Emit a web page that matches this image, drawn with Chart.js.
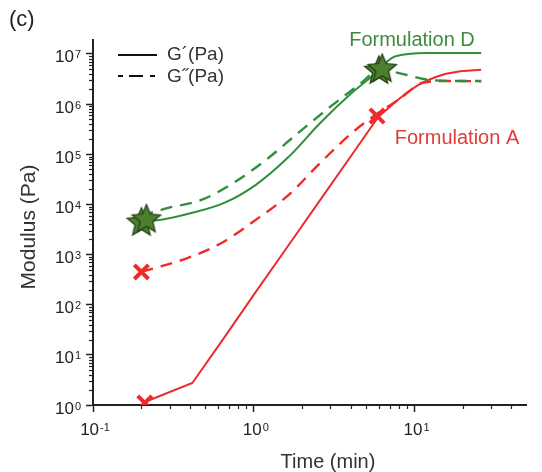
<!DOCTYPE html>
<html>
<head>
<meta charset="utf-8">
<script src="https://cdn.jsdelivr.net/npm/chart.js@4/dist/chart.umd.min.js"></script>
<style>
  html, body { margin: 0; padding: 0; background: #fff; }
  #wrap { width: 542px; height: 472px; }
</style>
</head>
<body>
<div id="wrap"><canvas id="c" width="542" height="472"></canvas></div>
<script>
// Formulation D, storage modulus G' (Pa) vs time (min)
const timeGpD = [0.2, 0.26, 0.415, 0.655, 1.03, 1.65, 2.6, 4.1, 5.4, 7.55, 11.9, 18, 26];
const gpD     = [4.6e3, 4.9e3, 6.8e3, 1.07e4, 2.46e4, 8.9e4, 4.25e5, 1.7e6, 3.5e6, 8.9e6, 1.05e7, 1.05e7, 1.05e7];

// Formulation D, loss modulus G'' (Pa)
const timeGppD = [0.2, 0.298, 0.476, 0.75, 1.19, 1.9, 3.0, 4.5, 6.1, 7.9, 11.9, 18, 26];
const gppD     = [6.0e3, 8.6e3, 1.24e4, 2.7e4, 7.7e4, 2.7e5, 8.9e5, 2.4e6, 4.8e6, 4.2e6, 3.1e6, 2.9e6, 2.9e6];

// Formulation A, storage modulus G' (Pa)
const timeGpA = [0.21, 0.415, 0.655, 1.03, 1.65, 2.6, 4.1, 5.97, 6.86, 7.87, 9.04, 10.4, 11.9, 13.7, 15.7, 19.3, 26];
const gpA     = [1.15, 2.75, 22, 180, 1550, 1.25e4, 1.0e5, 5.6e5, 8.3e5, 1.21e6, 1.73e6, 2.33e6, 2.93e6, 3.52e6, 4.04e6, 4.54e6, 4.86e6];

// Formulation A, loss modulus G'' (Pa)
const timeGppA = [0.2, 0.39, 0.63, 0.99, 1.65, 2.6, 4.1, 5.97, 7.9, 11.4, 16, 26];
const gppA     = [450, 860, 1.7e3, 4.5e3, 1.55e4, 6.8e4, 2.7e5, 6.7e5, 1.2e6, 2.7e6, 2.9e6, 2.85e6];

// Marked points: start of measurement and G'/G'' crossover
const starTimes  = [0.2, 0.215, 6.0, 6.3];
const starValues = [4.3e3, 5.0e3, 4.6e6, 5.0e6];
const crossTimes  = [0.21, 0.2, 5.85];
const crossValues = [1.1, 450, 5.8e5];

// Axis decades, labelled as 10 raised to these exponents
const xMajorTicks = [0.1, 1, 10];
const xTickExps   = ['-1', '0', '1'];
const yMajorTicks = [1, 10, 100, 1e3, 1e4, 1e5, 1e6, 1e7];
const yTickExps   = ['0', '1', '2', '3', '4', '5', '6', '7'];

const X_MIN = 0.1, X_MAX = 49.4;
const Y_MIN = 1, Y_MAX = 1.9e7;

const GREEN = '#2f8f3a';
const RED = '#ee2b2b';
const FONT = "'Liberation Sans', Arial, Helvetica, sans-serif";

function pts(xs, ys) { return xs.map((x, i) => ({ x: x, y: ys[i] })); }

function isDecade(v, majors) {
  return majors.some(m => Math.abs(m - v) / m < 1e-6);
}

function allTicks(majors, max) {
  const out = [];
  majors.forEach(m => {
    for (let k = 1; k <= 9; k++) {
      const v = m * k;
      if (v <= max * 1.0000001) out.push({ value: v });
    }
  });
  return out;
}

function makeStar(r, fill, stroke) {
  const size = Math.ceil(r * 2 + 4);
  const cv = document.createElement('canvas');
  cv.width = size; cv.height = size;
  const g = cv.getContext('2d');
  const c = size / 2;
  g.beginPath();
  for (let i = 0; i < 10; i++) {
    const rad = (i % 2 === 0) ? r : r * 0.45;
    const a = -Math.PI / 2 + i * Math.PI / 5;
    g.lineTo(c + rad * Math.cos(a), c + rad * Math.sin(a));
  }
  g.closePath();
  g.fillStyle = fill;
  g.fill();
  g.lineWidth = 1.2;
  g.strokeStyle = stroke;
  g.stroke();
  return cv;
}
const starImg = makeStar(15, '#4e7f2f', '#1e3a12');

// "10" with a raised exponent
function drawPower(ctx, exp, x, digitsMid, align) {
  ctx.font = '17px ' + FONT;
  const wBase = ctx.measureText('10').width;
  ctx.font = '11px ' + FONT;
  const wExp = ctx.measureText(exp).width + 1;
  const total = wBase + wExp;
  const left = align === 'right' ? x - total : x - total / 2;
  ctx.textAlign = 'left';
  ctx.textBaseline = 'alphabetic';
  ctx.font = '17px ' + FONT;
  const base = digitsMid + 6;
  ctx.fillText('10', left, base);
  ctx.font = '11px ' + FONT;
  ctx.fillText(exp, left + wBase + 1, base - 4);
}

// Minor tick marks, tick labels and free text (panel letter, legend, series names, axis titles)
const decorations = {
  id: 'decorations',
  afterDraw(chart) {
    const ctx = chart.ctx;
    const xs = chart.scales.x, ys = chart.scales.y;
    ctx.save();
    ctx.strokeStyle = '#222';
    ctx.lineWidth = 1.2;
    xs.ticks.forEach(t => {
      if (isDecade(t.value, xMajorTicks)) return;
      const px = Math.round(xs.getPixelForValue(t.value)) + 0.5;
      ctx.beginPath();
      ctx.moveTo(px, xs.top);
      ctx.lineTo(px, xs.top + 4);
      ctx.stroke();
    });
    ys.ticks.forEach(t => {
      if (isDecade(t.value, yMajorTicks)) return;
      const py = Math.round(ys.getPixelForValue(t.value)) + 0.5;
      ctx.beginPath();
      ctx.moveTo(ys.right, py);
      ctx.lineTo(ys.right - 4, py);
      ctx.stroke();
    });

    // decade labels
    ctx.fillStyle = '#222';
    xMajorTicks.forEach((v, i) => {
      drawPower(ctx, xTickExps[i], xs.getPixelForValue(v) + 2, 429, 'center');
    });
    yMajorTicks.forEach((v, i) => {
      drawPower(ctx, yTickExps[i], 81, ys.getPixelForValue(v) + 2.5, 'right');
    });

    ctx.textBaseline = 'middle';
    ctx.fillStyle = '#222';
    ctx.textAlign = 'left';
    ctx.font = '22px ' + FONT;
    ctx.fillText('(c)', 9, 20);

    // legend
    ctx.strokeStyle = '#111';
    ctx.lineWidth = 2;
    ctx.beginPath();
    ctx.moveTo(118, 55); ctx.lineTo(157, 55);
    ctx.stroke();
    ctx.setLineDash([5, 6, 14, 7]);
    ctx.beginPath();
    ctx.moveTo(118, 76); ctx.lineTo(156, 76);
    ctx.stroke();
    ctx.setLineDash([]);
    ctx.font = '19px ' + FONT;
    ctx.fillStyle = '#333';
    ctx.fillText('G\u00B4(Pa)', 167, 55);
    ctx.fillText('G\u02DD(Pa)', 167, 77);

    // series names
    ctx.font = '20px ' + FONT;
    ctx.textAlign = 'center';
    ctx.fillStyle = '#3b8c3b';
    ctx.fillText('Formulation D', 412, 40);
    ctx.fillStyle = '#e23b3b';
    ctx.fillText('Formulation A', 457, 138);

    // axis titles
    ctx.fillStyle = '#333';
    ctx.font = '20px ' + FONT;
    ctx.fillText('Time (min)', 328, 462);
    ctx.translate(29, 227);
    ctx.rotate(-Math.PI / 2);
    ctx.font = '21px ' + FONT;
    ctx.fillText('Modulus (Pa)', 0, 0);
    ctx.restore();
  }
};

const lineBase = {
  showLine: true,
  pointRadius: 0,
  borderWidth: 2,
  fill: false,
  cubicInterpolationMode: 'monotone'
};

new Chart(document.getElementById('c'), {
  type: 'scatter',
  data: {
    datasets: [
      {
        label: 'markers-star',
        data: pts(starTimes, starValues),
        pointStyle: starImg,
        pointRadius: 15,
        showLine: false,
        order: -2
      },
      {
        label: 'markers-cross',
        data: pts(crossTimes, crossValues),
        pointStyle: 'crossRot',
        pointRadius: 10,
        pointBorderWidth: 4,
        pointBorderColor: RED,
        pointBackgroundColor: RED,
        showLine: false,
        order: -1
      },
      Object.assign({}, lineBase, { label: "G' D", data: pts(timeGpD, gpD), borderColor: GREEN }),
      Object.assign({}, lineBase, { label: "G'' D", data: pts(timeGppD, gppD), borderColor: GREEN, borderDash: [12, 8], borderWidth: 2.4 }),
      Object.assign({}, lineBase, { label: "G' A", data: pts(timeGpA, gpA), borderColor: RED, cubicInterpolationMode: 'default', tension: 0 }),
      Object.assign({}, lineBase, { label: "G'' A", data: pts(timeGppA, gppA), borderColor: RED, borderDash: [12, 8], borderWidth: 2.4 })
    ]
  },
  options: {
    responsive: false,
    animation: false,
    devicePixelRatio: 1,
    layout: { padding: { top: 40, right: 0, left: 0, bottom: 0 } },
    plugins: { legend: { display: false }, tooltip: { enabled: false } },
    scales: {
      x: {
        type: 'logarithmic',
        min: X_MIN,
        max: X_MAX,
        afterBuildTicks: s => { s.ticks = allTicks(xMajorTicks, X_MAX); },
        afterFit: s => { s.height = 67; },
        border: { display: true, color: '#222', width: 2 },
        grid: {
          drawOnChartArea: false,
          drawTicks: true,
          tickLength: 7,
          tickWidth: 1.5,
          tickColor: c => (c.tick && isDecade(c.tick.value, xMajorTicks)) ? '#222' : 'rgba(0,0,0,0)'
        },
        ticks: { autoSkip: false, maxRotation: 0, minRotation: 0, callback: () => '' }
      },
      y: {
        type: 'logarithmic',
        min: Y_MIN,
        max: Y_MAX,
        afterBuildTicks: s => { s.ticks = allTicks(yMajorTicks, Y_MAX); },
        afterFit: s => { s.width = 93; },
        border: { display: true, color: '#222', width: 2 },
        grid: {
          drawOnChartArea: false,
          drawTicks: true,
          tickLength: 7,
          tickWidth: 1.5,
          tickColor: c => (c.tick && isDecade(c.tick.value, yMajorTicks)) ? '#222' : 'rgba(0,0,0,0)'
        },
        ticks: { autoSkip: false, callback: () => '' }
      }
    }
  },
  plugins: [decorations]
});
</script>
</body>
</html>
